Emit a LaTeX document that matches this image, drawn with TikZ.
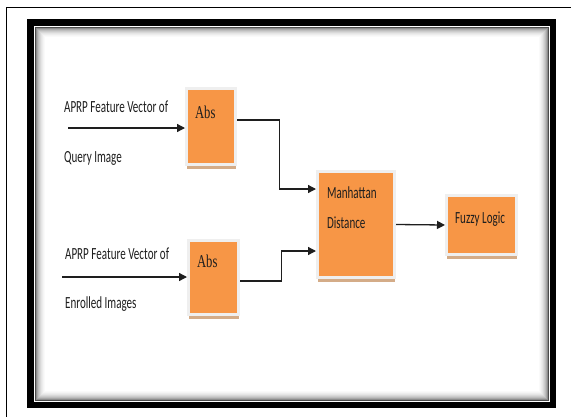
\documentclass[tikz,border=0pt]{standalone}
\usepackage{fontspec}
\setmainfont{Carlito}
\newfontfamily\absfont{Liberation Serif}
\usetikzlibrary{arrows.meta,shadows}

\definecolor{boxorange}{HTML}{F79646}
\definecolor{boxrim}{HTML}{EFEFEF}
\definecolor{boxtan}{HTML}{D4AC88}
\definecolor{inktext}{HTML}{1E1E1E}

\tikzset{
  blk/.style={fill=boxorange, draw=boxrim, line width=3pt, inner sep=0pt,
    drop shadow={shadow xshift=0pt, shadow yshift=-4.5pt, fill=boxtan, opacity=1}},
  lbl/.style={font=\fontsize{17}{20}\selectfont, text=inktext, xscale=0.65,
    anchor=base west, inner sep=0pt},
  abslbl/.style={font=\absfont\fontsize{18}{20}\selectfont, text=inktext, xscale=0.7,
    anchor=base west, inner sep=0pt},
  wire/.style={line width=1.3pt, draw=inktext},
  feed/.style={wire, -{Triangle[length=8pt,width=8pt]}}
}

\begin{document}
\begin{tikzpicture}[x=1pt, y=-1pt]
    \useasboundingbox (0,0) rectangle (571,416);
    \fill[white] (0,0) rectangle (571,416);

    % frames
    \draw[line width=1.2pt] (6.5,420) |- (575,7.5);
    \draw[line width=6.5pt] (30.25,22.25) rectangle (552.75,404.75);
    \draw[white, line width=1pt] (34,26) rectangle (549,401);
    \foreach \k/\shade in {0/70,1/45,2/34,3/26,4/20,5/15,6/10,7/7,8/4,9/2}
      \draw[black!\shade, line width=1pt] (35+\k,27+\k) rectangle (548-\k,400-\k);

    % blocks
    \node[blk, minimum width=49pt, minimum height=76pt] (abs1) at (211,126.5) {};
    \node[blk, minimum width=50pt, minimum height=74pt] (abs2) at (213.5,277.5) {};
    \node[blk, minimum width=77pt, minimum height=106pt] (manh) at (356,224.5) {};
    \node[blk, minimum width=70pt, minimum height=59pt] (fuzzy) at (481.5,225) {};

    \node[abslbl] (abs1txt) at (195,118) {Abs};
    \node[abslbl] (abs2txt) at (197,267) {Abs};
    \node[lbl] (manhtxt1) at (327,198) {Manhattan};
    \node[lbl] (manhtxt2) at (327,228) {Distance};
    \node[lbl] (fuzzytxt) at (455,223) {Fuzzy Logic};

    % inputs
    \node[lbl] (qry1) at (64,112) {APRP Feature Vector of};
    \node[lbl] (qry2) at (64,162) {Query Image};
    \node[lbl] (enr1) at (65,259) {APRP Feature Vector of};
    \node[lbl] (enr2) at (65,308) {Enrolled Images};
    \coordinate (qin) at (68,128);
    \coordinate (ein) at (62,277);

    \draw[feed] (qin) -- (qin -| abs1.west);
    \draw[feed] (ein) -- (ein -| abs2.west);
    \draw[feed] ([yshift=6.5pt]abs1.east) -- ++(42.5,0) |- ([yshift=35.5pt]manh.west);
    \draw[feed] ([yshift=-3.5pt]abs2.east) -- ++(41.5,0) |- ([yshift=-26.5pt]manh.west);
    \draw[feed] (manh.east) -- (fuzzy.west);
\end{tikzpicture}
\end{document}
